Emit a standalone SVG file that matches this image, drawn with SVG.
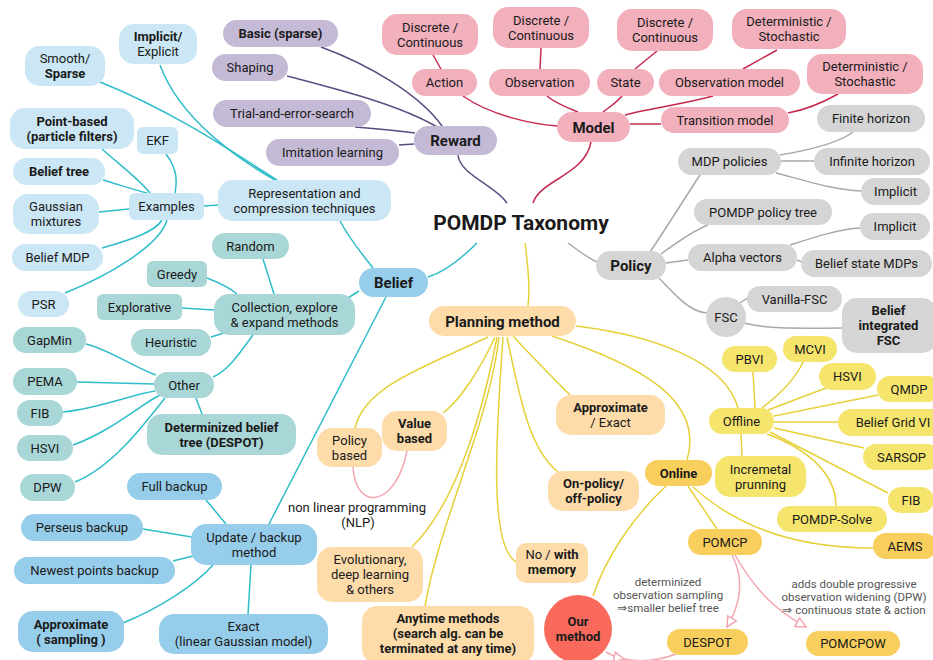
<svg xmlns="http://www.w3.org/2000/svg" width="933" height="660" viewBox="0 0 933 660">
<defs>
<style>
text{font-family:Roboto,"Liberation Sans",sans-serif;font-size:13px;fill:#1a1a1a;text-anchor:middle}
.b{font-weight:bold}
.h{font-size:15px;font-weight:bold}
.t{font-size:21px;font-weight:bold}
.ann{font-size:11.5px;fill:#555}
.lb{fill:#cbe6f4}.bb{fill:#96cdea}.tl{fill:#a9d6d6}.pu{fill:#c5bad6}.pk{fill:#f2afbc}.gr{fill:#d5d5d5}
.pe{fill:#fddcaa}.ye{fill:#f5e56c}.or{fill:#f8cf5c}.rd{fill:#f96a5d}
#edges path{fill:none;stroke-width:1.5}
.ep{stroke:#5c4b82}.er{stroke:#c52a4f}.eg{stroke:#a8a8a8}.et{stroke:#2fbdca}.ey{stroke:#e6d03a}.ek{stroke:#f4a6b0}
</style>
<marker id="ah" markerUnits="userSpaceOnUse" markerWidth="12" markerHeight="12" viewBox="0 0 12 12" refX="11" refY="6" orient="auto">
<path d="M1,1 L11,6 L1,11 z" fill="#fff" stroke="#f4a6b0" stroke-width="1.5"/>
</marker>
</defs>
<rect width="933" height="660" fill="#fff"/>
<g id="edges">
<path class="ep" d="M458,155 C460,175 495,185 507,203"/>
<path class="ep" d="M321,47 C370,65 420,95 442,126"/>
<path class="ep" d="M287,76 C340,90 400,105 437,127"/>
<path class="ep" d="M355,127 C380,129 400,131 415,133"/>
<path class="ep" d="M399,145 L414,144"/>
<path class="er" d="M591,142 C585,175 540,180 533,203"/>
<path class="er" d="M463,96 C490,115 530,124 558,126"/>
<path class="er" d="M547,96 C555,103 568,108 578,112"/>
<path class="er" d="M622,96 C615,104 608,108 603,112"/>
<path class="er" d="M713,96 C680,105 650,108 625,115"/>
<path class="er" d="M630,124 L661,124"/>
<path class="er" d="M433,55 L441,69"/>
<path class="er" d="M541,48 L540,69"/>
<path class="er" d="M657,51 L635,69"/>
<path class="er" d="M777,50 L743,69"/>
<path class="er" d="M838,94 C820,104 805,110 788,113"/>
<path class="eg" d="M568,243 C580,252 588,258 597,262"/>
<path class="eg" d="M650,252 C665,230 690,190 700,175"/>
<path class="eg" d="M661,254 C680,240 695,230 708,225"/>
<path class="eg" d="M666,263 L688,260"/>
<path class="eg" d="M659,278 C675,295 690,312 707,313"/>
<path class="eg" d="M780,155 C810,150 840,142 853,132"/>
<path class="eg" d="M781,161 L814,161"/>
<path class="eg" d="M776,173 C810,182 835,190 861,191"/>
<path class="eg" d="M790,245 C815,237 840,229 860,228"/>
<path class="eg" d="M797,260 L802,262"/>
<path class="eg" d="M740,303 L749,297"/>
<path class="eg" d="M744,323 C770,330 810,328 842,328"/>
<path class="et" d="M477,243 C460,260 445,272 428,277"/>
<path class="et" d="M340,221 C350,240 363,255 373,268"/>
<path class="et" d="M348,298 L359,291"/>
<path class="et" d="M386,297 L269,524"/>
<path class="et" d="M160,65 C180,120 240,160 275,180"/>
<path class="et" d="M100,82 C170,110 230,150 277,180"/>
<path class="et" d="M204,206 L218,205"/>
<path class="et" d="M102,149 C120,165 140,180 150,193"/>
<path class="et" d="M166,154 C178,170 177,182 175,193"/>
<path class="et" d="M103,180 C120,185 135,190 147,193"/>
<path class="et" d="M99,212 L129,209"/>
<path class="et" d="M102,248 C130,240 155,232 162,220"/>
<path class="et" d="M65,293 C110,275 160,245 167,220"/>
<path class="et" d="M263,259 L274,294"/>
<path class="et" d="M207,278 C220,283 230,288 237,294"/>
<path class="et" d="M182,308 L214,310"/>
<path class="et" d="M211,337 L224,333"/>
<path class="et" d="M213,377 C230,370 245,345 253,335"/>
<path class="et" d="M86,344 C110,350 135,368 156,375"/>
<path class="et" d="M77,382 L154,384"/>
<path class="et" d="M63,412 C100,408 130,395 155,391"/>
<path class="et" d="M73,445 C110,432 140,405 160,395"/>
<path class="et" d="M75,482 C110,468 140,430 165,398"/>
<path class="et" d="M202,414 L196,398"/>
<path class="et" d="M206,500 L226,524"/>
<path class="et" d="M143,529 L192,537"/>
<path class="et" d="M173,561 L193,556"/>
<path class="et" d="M123,623 C160,608 195,585 213,565"/>
<path class="et" d="M248,614 L251,565"/>
<path class="ey" d="M525,243 C528,265 530,290 528,306"/>
<path class="ey" d="M488,337 C430,365 365,385 355,428"/>
<path class="ey" d="M495,337 C480,370 460,400 443,413"/>
<path class="ey" d="M497,337 C485,400 460,500 412,547"/>
<path class="ey" d="M499,337 C490,420 440,520 425,606"/>
<path class="ey" d="M503,337 C495,450 490,545 516,562"/>
<path class="ey" d="M507,337 C520,400 530,450 558,472"/>
<path class="ey" d="M513,336 C535,360 555,380 570,395"/>
<path class="ey" d="M576,326 C650,335 725,360 738,408"/>
<path class="ey" d="M552,336 C640,365 705,400 687,460"/>
<path class="ey" d="M753,372 L755,408"/>
<path class="ey" d="M803,362 C795,380 775,398 762,408"/>
<path class="ey" d="M826,388 L768,410"/>
<path class="ey" d="M878,395 L774,416"/>
<path class="ey" d="M774,422 L838,422"/>
<path class="ey" d="M774,428 L864,448"/>
<path class="ey" d="M770,432 L888,493"/>
<path class="ey" d="M767,434 C810,450 836,475 836,506"/>
<path class="ey" d="M741,434 L742,456"/>
<path class="ey" d="M688,486 L717,529"/>
<path class="ey" d="M693,487 C740,530 800,548 873,548"/>
<path class="ey" d="M666,486 C630,520 605,560 593,596"/>
<path class="ek" d="M353,467 C355,510 395,510 407,451"/>
<path class="ek" d="M732,555 C745,580 740,605 727,627" marker-end="url(#ah)"/>
<path class="ek" d="M735,555 C755,590 775,610 806,627" marker-end="url(#ah)"/>
<path class="ek" d="M606,652 Q614,657 624,659 Q650,664 676,654" marker-mid="url(#ah)"/>
</g>
<g id="title"><text class="t" x="521" y="230">POMDP Taxonomy</text></g>
<g id="n-basic"><rect class="pu" x="223" y="20" width="115" height="27" rx="13.5"/><text class="b" x="280.5" y="38">Basic (sparse)</text></g>
<g id="n-shaping"><rect class="pu" x="212" y="54" width="76" height="27" rx="13.5"/><text x="250" y="72">Shaping</text></g>
<g id="n-trial"><rect class="pu" x="213" y="100" width="158" height="27" rx="13.5"/><text x="292" y="118">Trial-and-error-search</text></g>
<g id="n-imitation"><rect class="pu" x="266" y="139" width="133" height="27" rx="13.5"/><text x="332.5" y="157">Imitation learning</text></g>
<g id="n-reward"><rect class="pu" x="414" y="126" width="83" height="29" rx="14.5"/><text class="h" x="455.5" y="146">Reward</text></g>
<g id="n-action-dc"><rect class="pk" x="382" y="14" width="96" height="41" rx="15"/><text x="430" y="32">Discrete /</text><text x="430" y="47">Continuous</text></g>
<g id="n-action"><rect class="pk" x="412" y="69" width="65" height="27" rx="13.5"/><text x="444.5" y="87">Action</text></g>
<g id="n-obs-dc"><rect class="pk" x="493" y="7" width="96" height="41" rx="15"/><text x="541" y="25">Discrete /</text><text x="541" y="40">Continuous</text></g>
<g id="n-observation"><rect class="pk" x="489" y="69" width="101" height="27" rx="13.5"/><text x="539.5" y="87">Observation</text></g>
<g id="n-state-dc"><rect class="pk" x="617" y="9" width="96" height="42" rx="15"/><text x="665" y="27">Discrete /</text><text x="665" y="42">Continuous</text></g>
<g id="n-state"><rect class="pk" x="597" y="69" width="57" height="27" rx="13.5"/><text x="625.5" y="87">State</text></g>
<g id="n-obsmodel-ds"><rect class="pk" x="732" y="9" width="114" height="40" rx="15"/><text x="789" y="26">Deterministic /</text><text x="789" y="41">Stochastic</text></g>
<g id="n-obsmodel"><rect class="pk" x="659" y="69" width="141" height="27" rx="13.5"/><text x="729.5" y="87">Observation model</text></g>
<g id="n-trans-ds"><rect class="pk" x="807" y="54" width="116" height="40" rx="15"/><text x="865" y="71">Deterministic /</text><text x="865" y="86">Stochastic</text></g>
<g id="n-transition"><rect class="pk" x="661" y="107" width="128" height="26" rx="13"/><text x="725" y="124.5">Transition model</text></g>
<g id="n-model"><rect class="pk" x="557" y="112" width="73" height="30" rx="15"/><text class="h" x="593.5" y="132.5">Model</text></g>
<g id="n-finite"><rect class="gr" x="817" y="105" width="108" height="27" rx="13.5"/><text x="871" y="123">Finite horizon</text></g>
<g id="n-mdp"><rect class="gr" x="678" y="148" width="103" height="27" rx="13.5"/><text x="729.5" y="166">MDP policies</text></g>
<g id="n-infinite"><rect class="gr" x="814" y="148" width="116" height="27" rx="13.5"/><text x="872" y="166">Infinite horizon</text></g>
<g id="n-implicit1"><rect class="gr" x="861" y="178" width="69" height="27" rx="13.5"/><text x="895.5" y="196">Implicit</text></g>
<g id="n-pomdptree"><rect class="gr" x="694" y="199" width="138" height="26" rx="13"/><text x="763" y="216.5">POMDP policy tree</text></g>
<g id="n-implicit2"><rect class="gr" x="860" y="213" width="70" height="27" rx="13.5"/><text x="895" y="231">Implicit</text></g>
<g id="n-alpha"><rect class="gr" x="688" y="244" width="109" height="27" rx="13.5"/><text x="742.5" y="262">Alpha vectors</text></g>
<g id="n-bsmdp"><rect class="gr" x="801" y="250" width="131" height="27" rx="13.5"/><text x="866.5" y="268">Belief state MDPs</text></g>
<g id="n-policy"><rect class="gr" x="596" y="251" width="70" height="29" rx="14.5"/><text class="h" x="631" y="271">Policy</text></g>
<g id="n-fsc"><circle class="gr" cx="726" cy="317" r="20"/><text x="726" y="321.5">FSC</text></g>
<g id="n-vanilla"><rect class="gr" x="747" y="286" width="95" height="26" rx="13"/><text x="794.5" y="303.5">Vanilla-FSC</text></g>
<g id="n-bifsc"><rect class="gr" x="842" y="298" width="95" height="55" rx="15"/><text class="b" x="888.5" y="315">Belief</text><text class="b" x="888.5" y="330">integrated</text><text class="b" x="888.5" y="345">FSC</text></g>
<g id="n-implicit-explicit"><rect class="lb" x="119" y="24" width="78" height="40" rx="15"/><text class="b" x="158" y="41">Implicit/</text><text x="158" y="56">Explicit</text></g>
<g id="n-smooth"><rect class="lb" x="25" y="46" width="80" height="40" rx="15"/><text x="65" y="63">Smooth/</text><text class="b" x="65" y="78">Sparse</text></g>
<g id="n-pointbased"><rect class="lb" x="10" y="108" width="124" height="41" rx="15"/><text class="b" x="72" y="125.5">Point-based</text><text class="b" x="72" y="140.5">(particle filters)</text></g>
<g id="n-ekf"><rect class="lb" x="137" y="127" width="41" height="27" rx="6"/><text x="157.5" y="145">EKF</text></g>
<g id="n-belieftree"><rect class="lb" x="13" y="158" width="92" height="27" rx="13.5"/><text class="b" x="59" y="176">Belief tree</text></g>
<g id="n-gaussian"><rect class="lb" x="13" y="194" width="86" height="40" rx="15"/><text x="56" y="211">Gaussian</text><text x="56" y="226">mixtures</text></g>
<g id="n-examples"><rect class="lb" x="129" y="193" width="75" height="27" rx="6"/><text x="166.5" y="211">Examples</text></g>
<g id="n-rep"><rect class="lb" x="218" y="180" width="173" height="41" rx="15"/><text x="304.5" y="197.5">Representation and</text><text x="304.5" y="212.5">compression techniques</text></g>
<g id="n-beliefmdp"><rect class="lb" x="12" y="244" width="91" height="27" rx="13.5"/><text x="57.5" y="262">Belief MDP</text></g>
<g id="n-psr"><rect class="lb" x="18" y="291" width="51" height="26" rx="13"/><text x="43.5" y="308.5">PSR</text></g>
<g id="n-belief"><rect class="bb" x="359" y="268" width="69" height="29" rx="14.5"/><text class="h" x="393.5" y="288">Belief</text></g>
<g id="n-random"><rect class="tl" x="212" y="233" width="77" height="26" rx="13"/><text x="250.5" y="250.5">Random</text></g>
<g id="n-greedy"><rect class="tl" x="147" y="261" width="60" height="26" rx="6"/><text x="177" y="278.5">Greedy</text></g>
<g id="n-explorative"><rect class="tl" x="97" y="294" width="85" height="26" rx="6"/><text x="139.5" y="311.5">Explorative</text></g>
<g id="n-collection"><rect class="tl" x="214" y="294" width="141" height="41" rx="15"/><text x="284.5" y="311.5">Collection, explore</text><text x="284.5" y="326.5">&amp; expand methods</text></g>
<g id="n-heuristic"><rect class="tl" x="131" y="329" width="80" height="27" rx="13.5"/><text x="171" y="347">Heuristic</text></g>
<g id="n-gapmin"><rect class="tl" x="13" y="327" width="73" height="26" rx="13"/><text x="49.5" y="344.5">GapMin</text></g>
<g id="n-other"><rect class="tl" x="154" y="372" width="60" height="26" rx="13"/><text x="184" y="389.5">Other</text></g>
<g id="n-pema"><rect class="tl" x="13" y="368" width="64" height="27" rx="13.5"/><text x="45" y="386">PEMA</text></g>
<g id="n-fib1"><rect class="tl" x="17" y="400" width="46" height="26" rx="13"/><text x="40" y="417.5">FIB</text></g>
<g id="n-despot-det"><rect class="tl" x="147" y="414" width="149" height="41" rx="15"/><text class="b" x="221.5" y="431.5">Determinized belief</text><text class="b" x="221.5" y="446.5">tree (DESPOT)</text></g>
<g id="n-hsvi1"><rect class="tl" x="17" y="435" width="56" height="26" rx="13"/><text x="45" y="452.5">HSVI</text></g>
<g id="n-dpw"><rect class="tl" x="20" y="474" width="55" height="27" rx="13.5"/><text x="47.5" y="492">DPW</text></g>
<g id="n-full"><rect class="bb" x="127" y="473" width="95" height="27" rx="13.5"/><text x="174.5" y="491">Full backup</text></g>
<g id="n-perseus"><rect class="bb" x="21" y="514" width="122" height="27" rx="13.5"/><text x="82" y="532">Perseus backup</text></g>
<g id="n-update"><rect class="bb" x="191" y="524" width="126" height="41" rx="15"/><text x="254" y="541.5">Update / backup</text><text x="254" y="556.5">method</text></g>
<g id="n-newest"><rect class="bb" x="14" y="557" width="161" height="27" rx="13.5"/><text x="94.5" y="575">Newest points backup</text></g>
<g id="n-approx-s"><rect class="bb" x="18" y="611" width="106" height="41" rx="15"/><text class="b" x="71" y="628.5">Approximate</text><text class="b" x="71" y="643.5">( sampling )</text></g>
<g id="n-exact"><rect class="bb" x="159" y="614" width="169" height="40" rx="15"/><text x="243.5" y="631">Exact</text><text x="243.5" y="646">(linear Gaussian model)</text></g>
<g id="n-planning"><rect class="pe" x="429" y="306" width="147" height="30" rx="15"/><text class="h" x="502.5" y="326.5">Planning method</text></g>
<g id="n-approx-exact"><rect class="pe" x="556" y="395" width="109" height="40" rx="15"/><text class="b" x="610.5" y="412">Approximate</text><text x="610.5" y="427">/ Exact</text></g>
<g id="n-value"><rect class="pe" x="382" y="411" width="65" height="40" rx="15"/><text class="b" x="414.5" y="428">Value</text><text class="b" x="414.5" y="443">based</text></g>
<g id="n-policybased"><rect class="pe" x="317" y="428" width="65" height="39" rx="15"/><text x="349.5" y="444.5">Policy</text><text x="349.5" y="459.5">based</text></g>
<g id="n-nlp"><text x="357" y="512">non linear programming</text><text x="358" y="527">(NLP)</text></g>
<g id="n-evolutionary"><rect class="pe" x="317" y="547" width="106" height="55" rx="15"/><text x="370" y="564">Evolutionary,</text><text x="370" y="579">deep learning</text><text x="370" y="594">&amp; others</text></g>
<g id="n-anytime"><rect class="pe" x="362" y="606" width="172" height="58" rx="15"/><text class="b" x="448" y="623">Anytime methods</text><text class="b" x="448" y="638">(search alg. can be</text><text class="b" x="448" y="653">terminated at any time)</text></g>
<g id="n-memory"><rect class="pe" x="516" y="543" width="72" height="40" rx="10"/><text x="552" y="559">No / <tspan class="b">with</tspan></text><text class="b" x="552" y="574">memory</text></g>
<g id="n-onpolicy"><rect class="pe" x="548" y="471" width="91" height="40" rx="15"/><text class="b" x="593.5" y="488">On-policy/</text><text class="b" x="593.5" y="503">off-policy</text></g>
<g id="n-pbvi"><rect class="ye" x="722" y="346" width="55" height="26" rx="13"/><text x="749.5" y="363.5">PBVI</text></g>
<g id="n-mcvi"><rect class="ye" x="783" y="336" width="54" height="26" rx="13"/><text x="810" y="353.5">MCVI</text></g>
<g id="n-hsvi2"><rect class="ye" x="819" y="363" width="57" height="27" rx="13.5"/><text x="847.5" y="381">HSVI</text></g>
<g id="n-qmdp"><rect class="ye" x="877" y="376" width="64" height="26" rx="13"/><text x="909" y="393.5">QMDP</text></g>
<g id="n-offline"><rect class="ye" x="709" y="408" width="65" height="26" rx="13"/><text x="741.5" y="425.5">Offline</text></g>
<g id="n-bgvi"><rect class="ye" x="838" y="409" width="110" height="27" rx="13.5"/><text x="893" y="427">Belief Grid VI</text></g>
<g id="n-incremetal"><rect class="ye" x="715" y="456" width="91" height="41" rx="15"/><text x="760.5" y="473.5">Incremetal</text><text x="760.5" y="488.5">prunning</text></g>
<g id="n-sarsop"><rect class="ye" x="863" y="444" width="77" height="26" rx="13"/><text x="901.5" y="461.5">SARSOP</text></g>
<g id="n-fib2"><rect class="ye" x="888" y="487" width="46" height="26" rx="13"/><text x="911" y="504.5">FIB</text></g>
<g id="n-pomdpsolve"><rect class="ye" x="777" y="506" width="110" height="26" rx="13"/><text x="832" y="523.5">POMDP-Solve</text></g>
<g id="n-online"><rect class="or" x="645" y="460" width="67" height="26" rx="13"/><text class="b" x="678.5" y="477.5">Online</text></g>
<g id="n-pomcp"><rect class="or" x="688" y="529" width="74" height="26" rx="13"/><text x="725" y="546.5">POMCP</text></g>
<g id="n-aems"><rect class="or" x="873" y="533" width="64" height="26" rx="13"/><text x="905" y="550.5">AEMS</text></g>
<g id="n-despot"><rect class="or" x="667" y="629" width="81" height="26" rx="13"/><text x="707.5" y="646.5">DESPOT</text></g>
<g id="n-pomcpow"><rect class="or" x="806" y="631" width="94" height="25" rx="12.5"/><text x="853" y="648">POMCPOW</text></g>
<g id="n-our"><circle class="rd" cx="578" cy="629" r="34"/><text class="b" x="578" y="626">Our</text><text class="b" x="578" y="641">method</text></g>
<g id="ann-despot"><text class="ann" x="668" y="586">determinized</text><text class="ann" x="668" y="599">observation sampling</text><text class="ann" x="668" y="612">⇒smaller belief tree</text></g>
<g id="ann-pomcpow"><text class="ann" x="854" y="588">adds double progressive</text><text class="ann" x="854" y="601">observation widening (DPW)</text><text class="ann" x="854" y="614">⇒ continuous state &amp; action</text></g>
</svg>
